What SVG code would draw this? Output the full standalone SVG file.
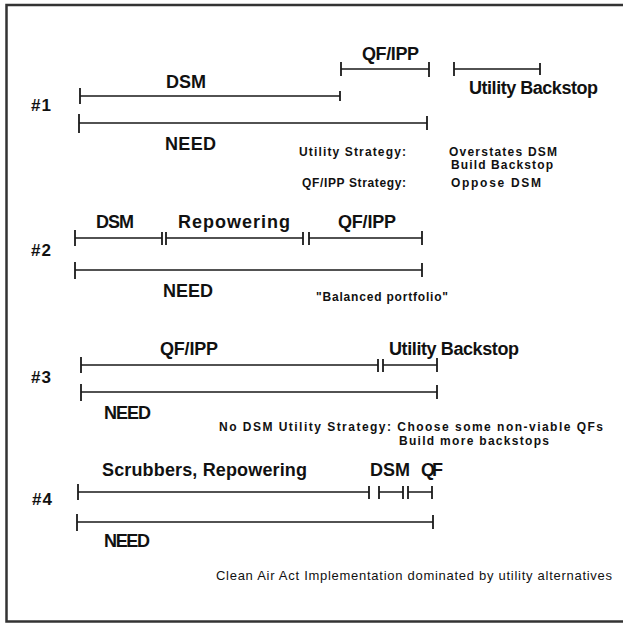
<svg xmlns="http://www.w3.org/2000/svg" width="623" height="624" viewBox="0 0 623 624">
<style>
text{font-family:"Liberation Sans",Arial,sans-serif;fill:#111;}
.big{font-size:18px;font-weight:bold;}
.num{font-size:17px;font-weight:bold;}
.sm{font-size:12px;font-weight:bold;}
.reg{font-size:13px;}
.bar{stroke:#1a1a1a;stroke-width:1.4;fill:none;}
.tick{stroke:#1a1a1a;stroke-width:1.8;fill:none;}
.frame{stroke:#333;stroke-width:2.5;fill:none;}
</style>
<rect width="623" height="624" fill="#fff"/>
<g id="frame">
<path class="frame" d="M623,5 L6.5,5 L6.5,621.5 L623,621.5"/>
</g>

<g id="scenario1">
<text class="num" x="31" y="111" textLength="20">#1</text>
<text class="big" x="166" y="88" textLength="40">DSM</text>
<text class="big" x="362" y="60" textLength="57">QF/IPP</text>
<text class="big" x="469" y="94" textLength="129">Utility Backstop</text>
<text class="big" x="165" y="150" textLength="51">NEED</text>
<text class="sm" x="299" y="156" textLength="107">Utility Strategy:</text>
<text class="sm" x="449" y="156" textLength="108">Overstates DSM</text>
<text class="sm" x="451" y="169" textLength="102">Build Backstop</text>
<text class="sm" x="302" y="187" textLength="104">QF/IPP Strategy:</text>
<text class="sm" x="451" y="187" textLength="90">Oppose DSM</text>
<g id="bars1">
<path class="bar" d="M80,96 H340 M341,69 H429 M454,69 H540 M79,123 H427"/>
<path class="tick" d="M80,88 V104 M340,91 V101 M341,62 V76 M429,62 V77 M454,62 V76 M540,63 V75 M79,114 V133 M427,116 V130"/>
</g>
</g>

<g id="scenario2">
<text class="num" x="31" y="256" textLength="20">#2</text>
<text class="big" x="96" y="228" textLength="38">DSM</text>
<text class="big" x="178" y="228" textLength="112">Repowering</text>
<text class="big" x="338" y="228" textLength="58">QF/IPP</text>
<text class="big" x="163" y="297" textLength="50">NEED</text>
<text class="sm" x="316" y="301" textLength="132">"Balanced portfolio"</text>
<g id="bars2">
<path class="bar" d="M75,238 H162 M166,238 H303 M309,238 H422 M75,270 H422"/>
<path class="tick" d="M75,230 V246 M162,232 V245 M166,232 V245 M303,232 V245 M309,232 V245 M422,231 V245 M75,262 V279 M422,263 V277"/>
</g>
</g>

<g id="scenario3">
<text class="num" x="31" y="383" textLength="20">#3</text>
<text class="big" x="160" y="355" textLength="58">QF/IPP</text>
<text class="big" x="389" y="355" textLength="130">Utility Backstop</text>
<text class="big" x="104" y="419" textLength="47">NEED</text>
<text class="sm" x="219" y="431" textLength="384">No DSM Utility Strategy: Choose some non-viable QFs</text>
<text class="sm" x="399" y="445" textLength="150">Build more backstops</text>
<g id="bars3">
<path class="bar" d="M81,365 H378 M383,365 H437 M81,392 H437"/>
<path class="tick" d="M81,357 V373 M378,359 V372 M383,359 V372 M437,358 V372 M81,384 V401 M437,385 V399"/>
</g>
</g>

<g id="scenario4">
<text class="num" x="32" y="505" textLength="20">#4</text>
<text class="big" x="102" y="476" textLength="205">Scrubbers, Repowering</text>
<text class="big" x="370" y="476" textLength="40">DSM</text>
<text class="big" x="421" y="476" textLength="22">QF</text>
<text class="big" x="104" y="547" textLength="46">NEED</text>
<text class="reg" x="216" y="580" textLength="396">Clean Air Act Implementation dominated by utility alternatives</text>
<g id="bars4">
<path class="bar" d="M78,492 H369 M379,492 H403 M408,492 H432 M77,522 H433"/>
<path class="tick" d="M78,484 V500 M369,486 V499 M379,486 V499 M403,486 V499 M408,486 V499 M432,486 V499 M77,514 V531 M433,515 V529"/>
</g>
</g>
</svg>
